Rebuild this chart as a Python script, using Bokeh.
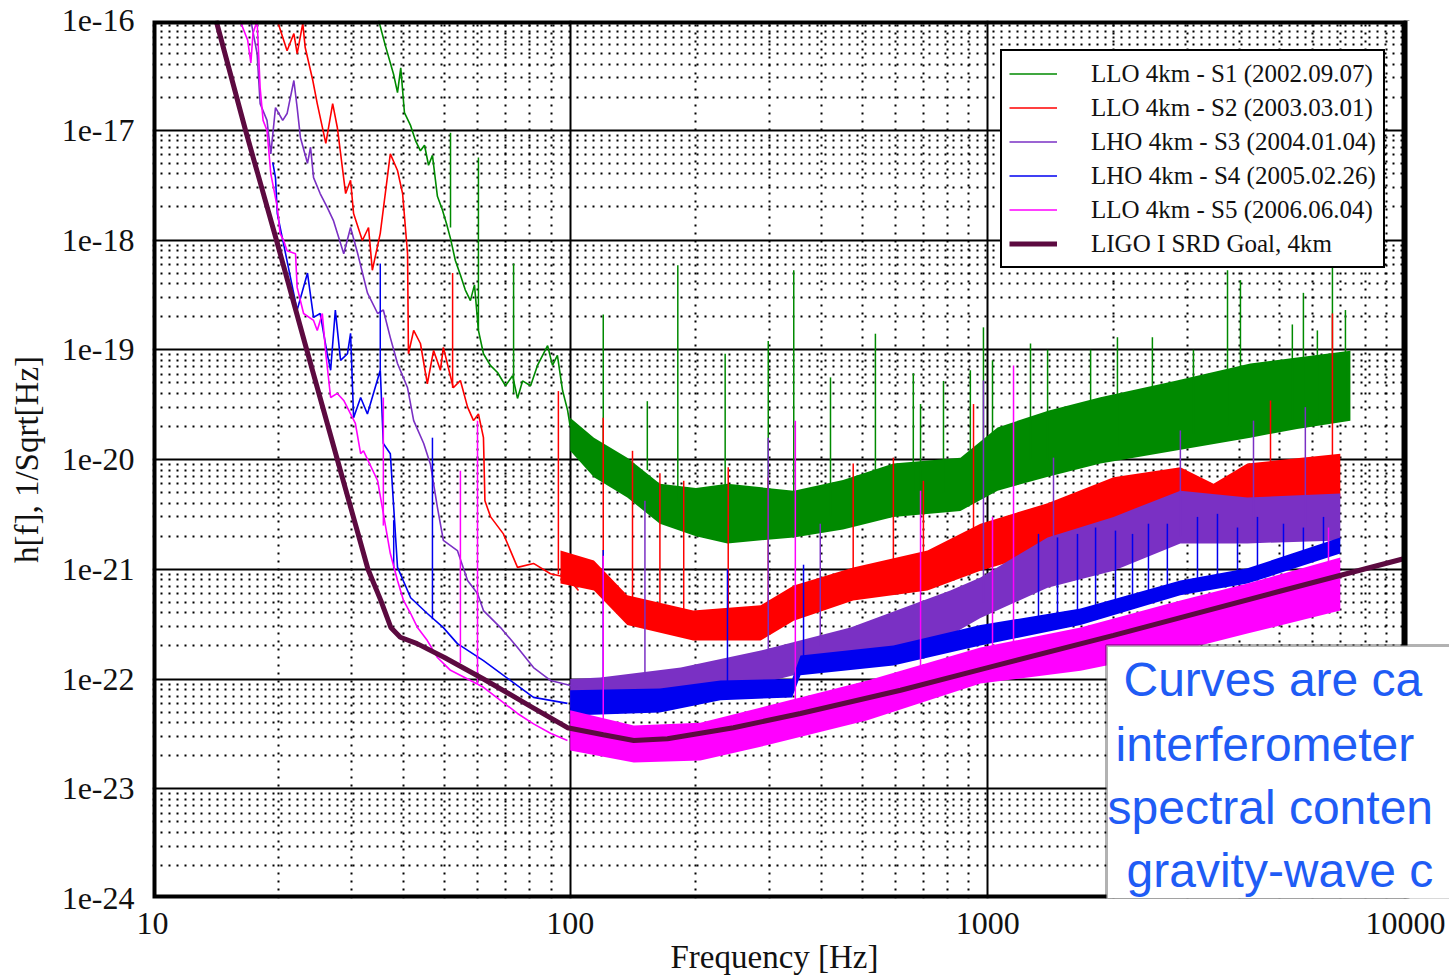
from bokeh.plotting import figure
from bokeh.models import (FixedTicker, CustomJSTickFormatter, Legend, LegendItem,
                          Label, BoxAnnotation, Title)
from bokeh.embed import file_html
from bokeh.resources import INLINE

# ---------------- data ----------------
X_TICKS = [10, 100, 1000, 10000]
Y_TICKS = [1e-24, 1e-23, 1e-22, 1e-21, 1e-20, 1e-19, 1e-18, 1e-17, 1e-16]

LABELS = ["LLO 4km - S1 (2002.09.07)", "LLO 4km - S2 (2003.03.01)",
          "LHO 4km - S3 (2004.01.04)", "LHO 4km - S4 (2005.02.26)",
          "LLO 4km - S5 (2006.06.04)", "LIGO I SRD Goal, 4km"]

# S1 (green)
S1_F = [34.8, 36.1, 37.8, 38.6, 39.3, 40.1, 41.5, 42.6, 43.8, 44.8, 45.8, 46.8, 48.1, 49.4, 50.6,
        51.7, 53.1, 54.6, 56.1, 57.7, 59.0, 60.3, 62.0, 64.4, 67.0, 70.0, 72.8, 74.8, 76.9, 80.4,
        83.5, 85.9, 88.3, 90.7, 93.2, 95.9, 98.6, 100]
S1_H = [1e-16, 5.9e-17, 3.2e-17, 2.2e-17, 3.7e-17, 1.45e-17, 1.1e-17, 8.1e-18, 6.5e-18, 7.3e-18,
        4.8e-18, 5.9e-18, 2.5e-18, 1.9e-18, 1.4e-18, 1.03e-18, 6.5e-19, 4.8e-19, 3.5e-19, 2.8e-19,
        3.9e-19, 1.5e-19, 9.2e-20, 7.2e-20, 6.2e-20, 4.7e-20, 5.8e-20, 3.6e-20, 5.2e-20, 4.7e-20,
        7.2e-20, 8.9e-20, 1.09e-19, 7.2e-20, 8.9e-20, 4.25e-20, 2.8e-20, 2.0e-20]
S1_BAND_F = [100, 114, 137, 164, 200, 238, 343, 450, 594, 860, 1055, 1400, 1860, 2800, 4250, 5500, 7380]
S1_BAND_LO = [1.2e-20, 6.9e-21, 4.5e-21, 2.6e-21, 2.0e-21, 1.72e-21, 1.95e-21, 2.3e-21, 3.0e-21,
              3.4e-21, 5.2e-21, 7.0e-21, 9.2e-21, 1.2e-20, 1.58e-20, 1.9e-20, 2.26e-20]
S1_BAND_HI = [2.4e-20, 1.58e-20, 1.04e-20, 6.0e-21, 5.5e-21, 6.0e-21, 5.2e-21, 6.5e-21, 9.2e-21,
              1.04e-20, 1.96e-20, 2.8e-20, 3.7e-20, 5.2e-20, 7.5e-20, 8.5e-20, 9.8e-20]
S1_SPK_F = [51.7, 60.3, 73.2, 120, 153, 181, 235, 298, 343, 420, 538, 663, 690, 783, 908, 976,
            1026, 1265, 1390, 1762, 2043, 2477, 3106, 3748, 4025, 5358, 5695, 6151, 6683, 7180]
S1_SPK_TOP = [9.5e-18, 5.65e-18, 6.1e-19, 2.1e-19, 3.4e-20, 5.9e-19, 9.2e-20, 1.2e-19, 5.3e-19,
              5.6e-20, 1.4e-19, 6.1e-20, 3.2e-20, 5.2e-20, 6.5e-20, 1.6e-19, 8.0e-20, 1.14e-19,
              1.0e-19, 1.0e-19, 1.3e-19, 1.3e-19, 1.0e-19, 5.3e-19, 4.3e-19, 1.7e-19, 3.3e-19,
              1.5e-19, 5.9e-19, 2.3e-19]
S1_SPK_BASE = [1.3e-18, 1.5e-19, 4e-20, 1e-20, 8e-21, 4e-21, 3e-21, 3e-21, 3e-21, 3e-21, 4e-21,
               5e-21, 5e-21, 5e-21, 6e-21, 6e-21, 8e-21, 1e-20, 1e-20, 1.2e-20, 1.3e-20, 1.5e-20,
               1.7e-20, 2e-20, 2e-20, 2.2e-20, 2.2e-20, 2.3e-20, 2.3e-20, 2.4e-20]

# S2 (red)
S2_F = [20.0, 21.0, 21.8, 22.2, 22.9, 23.2, 24.2, 24.8, 26.0, 27.0, 27.7, 29.0, 29.8, 30.3, 31.8,
        32.9, 33.6, 35.1, 37.1, 38.6, 39.7, 40.8, 41.0, 42.2, 43.8, 45.5, 47.1, 48.9, 49.7, 52.5,
        54.6, 56.8, 58.7, 60.3, 62.0, 62.5, 64.5, 69.2, 74.8, 81.7, 89.7, 98.5, 104.7]
S2_H = [9.4e-17, 5.3e-17, 7.6e-17, 5.0e-17, 9.4e-17, 5.7e-17, 2.84e-17, 1.75e-17, 7.6e-18, 1.75e-17,
        1.06e-17, 2.65e-18, 3.5e-18, 1.74e-18, 9.9e-19, 1.3e-18, 5.3e-19, 1.15e-18, 6.1e-18, 4.3e-18,
        2.65e-18, 7.5e-19, 9.2e-20, 1.5e-19, 1.14e-19, 4.9e-20, 9.85e-20, 6.5e-20, 1.05e-19, 4.5e-20,
        5.25e-20, 3.0e-20, 2.26e-20, 2.6e-20, 1.58e-20, 4.2e-21, 3.0e-21, 2.1e-21, 1.04e-21, 1.13e-21,
        9.1e-22, 8.4e-22, 6.4e-22]
S2_BAND_F = [94.8, 114, 137, 197, 286, 343, 476, 717, 960, 1390, 2000, 2890, 3470, 4182, 6980]
S2_BAND_LO = [7.4e-22, 6.4e-22, 3.1e-22, 2.24e-22, 2.24e-22, 3.4e-22, 5.2e-22, 6.4e-22, 9.7e-22,
              1.48e-21, 2.4e-21, 3.2e-21, 3.0e-21, 4.0e-21, 4.5e-21]
S2_BAND_HI = [1.48e-21, 1.2e-21, 5.8e-22, 4.2e-22, 4.7e-22, 7.1e-22, 1.04e-21, 1.48e-21, 2.6e-21,
              4.0e-21, 6.9e-21, 8.5e-21, 6.0e-21, 9.2e-21, 1.13e-20]
S2_SPK_F = [52.3, 93.7, 120, 141, 164, 187, 239, 298, 476, 594, 701, 924, 4750, 6683]
S2_SPK_TOP = [5.0e-19, 4.2e-20, 2.4e-20, 1.2e-20, 7.5e-21, 6.4e-21, 8.5e-21, 6.9e-21, 9.2e-21,
              1.04e-20, 6.4e-21, 3.2e-20, 3.45e-20, 2.14e-19]
S2_SPK_BASE = [4.5e-20, 9e-22, 6e-22, 4e-22, 3.5e-22, 3e-22, 3e-22, 3e-22, 6e-22, 7e-22, 8e-22,
               1.2e-21, 6e-21, 6e-21]

# S3 (violet)
S3_F = [17.2, 17.8, 18.1, 18.8, 19.2, 19.7, 20.5, 21.0, 21.8, 22.2, 22.6, 23.5, 23.9, 24.3, 25.2,
        26.2, 27.1, 28.7, 29.8, 31.0, 32.7, 34.6, 35.7, 37.1, 38.6, 40.8, 42.2, 44.6, 46.3, 48.1,
        49.7, 53.7, 56.8, 60.0, 62.0, 68.1, 74.8, 81.7, 89.7, 104.1]
S3_H = [1e-16, 5.0e-17, 1.75e-17, 1.23e-17, 6.1e-18, 1.61e-17, 1.23e-17, 1.42e-17, 2.84e-17, 1.61e-17,
        8.6e-18, 5.0e-18, 7.0e-18, 3.7e-18, 2.65e-18, 1.98e-18, 1.51e-18, 7.5e-19, 1.3e-18, 7.5e-19,
        3.3e-19, 2.14e-19, 2.3e-19, 1.29e-19, 7.5e-20, 4.5e-20, 2.26e-20, 1.4e-20, 9e-21, 3.66e-21,
        1.83e-21, 1.48e-21, 7.9e-22, 6.0e-22, 4.2e-22, 2.94e-22, 1.94e-22, 1.27e-22, 9.7e-23, 8.4e-23]
S3_BAND_F = [100, 118, 184, 286, 469, 813, 960, 1390, 2000, 2890, 4182, 6980]
S3_BAND_LO = [5.5e-23, 5.2e-23, 6.4e-23, 9.1e-23, 1.47e-22, 2.5e-22, 3.6e-22, 6.8e-22, 9.7e-22,
              1.72e-21, 1.72e-21, 1.83e-21]
S3_BAND_HI = [1.0e-22, 1.03e-22, 1.27e-22, 1.82e-22, 2.94e-22, 6.4e-22, 8.4e-22, 1.95e-21, 3.0e-21,
              5.2e-21, 4.5e-21, 4.9e-21]
S3_SPK_F = [151, 298, 397, 976, 1436, 2890, 4325, 5756]
S3_SPK_TOP = [4.2e-21, 1.58e-20, 2.6e-21, 5.25e-20, 1.04e-20, 1.84e-20, 2.26e-20, 3.0e-20]
S3_SPK_BASE = [1e-22, 1.6e-22, 2e-22, 5e-22, 8e-22, 2e-21, 2.5e-21, 2.5e-21]

# S4 (blue)
S4_F = [19.4, 19.7, 19.9, 22.2, 23.5, 24.3, 25.2, 26.2, 26.7, 27.4, 28.2, 29.3, 29.8, 30.3, 31.5,
        32.7, 35.1, 35.7, 37.1, 38.6, 41.5, 45.5, 49.7, 53.7, 62.0, 71.9, 81.7, 98.5]
S4_H = [5.1e-18, 3.7e-18, 1.74e-18, 2.3e-19, 5.0e-19, 1.97e-19, 2.14e-19, 9.2e-20, 6.5e-20, 2.3e-19,
        8.0e-20, 9.2e-20, 1.41e-19, 2.4e-20, 3.67e-20, 2.6e-20, 6.5e-20, 1.4e-20, 1.13e-20, 1.04e-21,
        5.5e-22, 3.95e-22, 2.94e-22, 2.1e-22, 1.47e-22, 9.7e-23, 6.8e-23, 6.0e-23]
S4_BAND_F = [100, 164, 229, 340, 356, 594, 960, 1667, 2890, 4182, 6980]
S4_BAND_LO = [4.65e-23, 4.95e-23, 6.4e-23, 6.8e-23, 1.08e-22, 1.33e-22, 2.02e-22, 3.1e-22, 5.8e-22,
              7.4e-22, 1.39e-21]
S4_BAND_HI = [7.9e-23, 8.2e-23, 9.7e-23, 1.0e-22, 1.64e-22, 2.02e-22, 3.1e-22, 4.4e-22, 7.9e-22,
              1.02e-21, 1.95e-21]
S4_SPK_F = [35.1, 37.8, 46.8, 120, 238, 362, 1322, 1468, 1639, 1811, 2021, 2220, 2424, 2690, 3176,
            3546, 3960, 4421, 5103, 5695, 6362]
S4_SPK_TOP = [6.1e-19, 2.8e-21, 1.58e-20, 1.5e-21, 1.0e-21, 1.1e-21, 2.1e-21, 1.95e-21, 2.1e-21,
              2.4e-21, 2.25e-21, 2.1e-21, 2.6e-21, 2.6e-21, 3.0e-21, 3.2e-21, 2.4e-21, 3.0e-21,
              2.6e-21, 2.4e-21, 3.0e-21]
S4_SPK_BASE = [6.5e-20, 1e-21, 3.5e-22, 6e-23, 8e-23, 1.2e-22, 3.5e-22, 3.7e-22, 4e-22, 4.3e-22,
               4.8e-22, 5.2e-22, 5.7e-22, 6.2e-22, 6.8e-22, 7.4e-22, 8e-22, 8.5e-22, 1.0e-21,
               1.1e-21, 1.3e-21]

# S5 (magenta)
S5_F = [16.2, 16.9, 17.2, 17.4, 17.8, 18.1, 18.4, 18.8, 19.2, 19.9, 20.2, 20.6, 21.0, 22.0, 22.2,
        23.0, 24.3, 24.8, 25.5, 26.0, 26.7, 27.7, 28.7, 29.8, 30.6, 31.5, 32.0, 34.6, 37.1, 38.6,
        39.9, 41.5, 43.1, 45.5, 48.1, 51.7, 56.8, 62.0, 68.1, 74.8, 81.7, 89.7, 98.5]
S5_H = [1e-16, 6.6e-17, 4.1e-17, 7.6e-17, 1e-16, 2.45e-17, 1.23e-17, 9.95e-18, 4.0e-18, 1.98e-18,
        1.15e-18, 9.9e-19, 8.0e-19, 7.5e-19, 3.7e-19, 2.14e-19, 1.85e-19, 1.5e-19, 2.14e-19, 9.2e-20,
        3.67e-20, 4.0e-20, 3.45e-20, 2.6e-20, 2.13e-20, 1.13e-20, 1.2e-20, 6.4e-21, 1.39e-21, 7.9e-22,
        5.2e-22, 3.95e-22, 2.94e-22, 2.24e-22, 1.57e-22, 1.2e-22, 1.0e-22, 8.4e-23, 6.4e-23, 4.85e-23,
        3.9e-23, 3.2e-23, 2.75e-23]
S5_BAND_F = [100, 142, 205, 297, 515, 960, 1667, 2890, 4182, 6980]
S5_BAND_LO = [2.23e-23, 1.73e-23, 1.81e-23, 2.5e-23, 4.2e-23, 9.1e-23, 1.19e-22, 1.82e-22, 2.6e-22, 4.2e-22]
S5_BAND_HI = [5.2e-23, 3.77e-23, 4.0e-23, 5.7e-23, 9.7e-23, 1.94e-22, 2.94e-22, 5.2e-22, 7.4e-22, 1.28e-21]
S5_SPK_F = [35.7, 54.6, 60.0, 120, 346, 690, 1026, 1152, 6540]
S5_SPK_TOP = [3.67e-20, 7.9e-21, 2.26e-20, 1.33e-21, 2.26e-20, 5.2e-21, 3.0e-21, 7.2e-20, 2.4e-21]
S5_SPK_BASE = [2.5e-21, 1.4e-22, 9e-23, 3e-23, 3.5e-23, 6e-23, 1e-22, 1.1e-22, 4e-22]

# LIGO I SRD goal
SRD_F = [14.2, 16.7, 19.8, 23.4, 27.7, 32.8, 35.2, 37.2, 39.2, 43, 50, 62, 80, 98.5, 120, 142, 171,
         246, 356, 618, 1000, 2000, 5000, 10000]
SRD_H = [1e-16, 1e-17, 1e-18, 1e-19, 1e-20, 1e-21, 5.2e-22, 2.95e-22, 2.4e-22, 2.1e-22, 1.57e-22,
         1.0e-22, 5.7e-23, 3.6e-23, 3.1e-23, 2.75e-23, 2.85e-23, 3.6e-23, 4.85e-23, 7.9e-23, 1.27e-22,
         2.5e-22, 6.3e-22, 1.26e-21]

NOTE_LINES = ["Curves are ca", "interferometer", "spectral conten", "gravity-wave c"]

COLORS = ["#008a00", "#ff0000", "#7a30c4", "#0000f0", "#ff00ff", "#5c0a40"]

# view constants (axes extent only)
X_MIN, X_MAX = 10, 10000
X_VIEW_MAX = 12743          # frame continues to the window edge; right of 10000 stays blank
Y_MIN, Y_MAX = 1e-24, 1e-16

# ---------------- figure ----------------
p = figure(width=1449, height=979, x_axis_type="log", y_axis_type="log",
           x_range=(X_MIN, X_VIEW_MAX), y_range=(Y_MIN, Y_MAX),
           output_backend="svg", toolbar_location=None,
           min_border_left=152, min_border_right=0, min_border_top=20, min_border_bottom=81)
p.background_fill_color = "white"
p.border_fill_color = "white"
p.outline_line_color = None

xt = FixedTicker(ticks=X_TICKS,
                 minor_ticks=[k * 10 ** n for n in range(1, 4) for k in range(2, 10)])
yt = FixedTicker(ticks=Y_TICKS,
                 minor_ticks=[k * 10.0 ** n for n in range(-24, -16) for k in range(2, 10)])
p.xaxis.ticker = xt
p.yaxis.ticker = yt
p.xgrid.ticker = xt
p.ygrid.ticker = yt
p.xaxis.formatter = CustomJSTickFormatter(code="return String(Math.round(tick));")
p.yaxis.formatter = CustomJSTickFormatter(code="return '1e' + Math.round(Math.log10(tick));")

for g in (p.xgrid, p.ygrid):
    g.grid_line_color = "black"
    g.grid_line_width = 2
    g.grid_line_alpha = 1
    g.minor_grid_line_color = "black"
    g.minor_grid_line_width = 2
    g.minor_grid_line_dash = "2 6"

for ax in (p.xaxis, p.yaxis):
    ax.axis_line_color = None
    ax.major_tick_line_color = None
    ax.minor_tick_line_color = None
    ax.major_label_text_font = "Liberation Serif"
    ax.major_label_text_font_size = "32px"
    ax.major_label_text_color = "#111111"
    ax.axis_label_text_font = "Liberation Serif"
    ax.axis_label_text_font_size = "33px"
    ax.axis_label_text_font_style = "normal"
    ax.axis_label_text_color = "#111111"
p.yaxis.axis_label = "h[f], 1/Sqrt[Hz]"
p.xaxis.major_label_standoff = 8
p.yaxis.major_label_standoff = 12
p.yaxis.axis_label_standoff = 14

# x-axis title placed under the 10..10000 part of the frame
p.add_layout(Title(text="Frequency [Hz]", align="left", offset=518, standoff=0,
                   text_font="Liberation Serif", text_font_size="33px",
                   text_font_style="normal", text_color="#111111"), "below")

series = [
    (S1_F, S1_H, S1_BAND_F, S1_BAND_LO, S1_BAND_HI, S1_SPK_F, S1_SPK_TOP, S1_SPK_BASE),
    (S2_F, S2_H, S2_BAND_F, S2_BAND_LO, S2_BAND_HI, S2_SPK_F, S2_SPK_TOP, S2_SPK_BASE),
    (S3_F, S3_H, S3_BAND_F, S3_BAND_LO, S3_BAND_HI, S3_SPK_F, S3_SPK_TOP, S3_SPK_BASE),
    (S4_F, S4_H, S4_BAND_F, S4_BAND_LO, S4_BAND_HI, S4_SPK_F, S4_SPK_TOP, S4_SPK_BASE),
    (S5_F, S5_H, S5_BAND_F, S5_BAND_LO, S5_BAND_HI, S5_SPK_F, S5_SPK_TOP, S5_SPK_BASE),
]

legend_renderers = []
for (f, h, bf, blo, bhi, sf, stop, sbase), c in zip(series, COLORS):
    p.varea(x=bf, y1=blo, y2=bhi, fill_color=c, fill_alpha=1)
    r = p.line(f, h, line_color=c, line_width=1.6)
    p.segment(x0=sf, y0=sbase, x1=sf, y1=stop, line_color=c, line_width=1.5)
    legend_renderers.append(r)

r_srd = p.line(SRD_F, SRD_H, line_color=COLORS[5], line_width=5)
legend_renderers.append(r_srd)

# axes box: outer half of the stroke is clipped at the frame edges
p.quad(left=[X_MIN], right=[X_MAX], bottom=[Y_MIN], top=[Y_MAX],
       fill_color=None, line_color="black", line_width=8)
# blank strip right of 10000
p.quad(left=[X_MAX], right=[X_VIEW_MAX], bottom=[Y_MIN], top=[Y_MAX],
       fill_color="white", line_color=None)
p.segment(x0=[X_MAX], y0=[Y_MIN], x1=[X_MAX], y1=[Y_MAX], line_color="black", line_width=4)

legend = Legend(items=[LegendItem(label=l, renderers=[r]) for l, r in zip(LABELS, legend_renderers)],
                location=(848, 630), orientation="vertical",
                label_text_font="Liberation Serif", label_text_font_size="25px",
                label_text_color="#111111",
                border_line_color="black", border_line_width=2, border_line_alpha=1,
                background_fill_color="white", background_fill_alpha=1,
                padding=7, spacing=3, margin=0,
                glyph_width=48, glyph_height=31, label_height=31, label_standoff=34)
p.add_layout(legend)

# overlaid note box (runs off the right edge of the window)
p.add_layout(BoxAnnotation(left=954, right=1400, bottom=-1, top=253,
                           left_units="screen", right_units="screen",
                           top_units="screen", bottom_units="screen",
                           fill_color="white", fill_alpha=1, line_color="black", line_width=3))
for txt, x, y in zip(NOTE_LINES, [971, 963, 955, 974], [219, 154, 91, 28]):
    p.add_layout(Label(x=x, y=y, x_units="screen", y_units="screen", text=txt,
                       text_font="Liberation Sans", text_font_size="48px",
                       text_color="#1f5cf5", text_baseline="alphabetic", text_align="left"))

open("out.html", "w").write(file_html(p, INLINE))
